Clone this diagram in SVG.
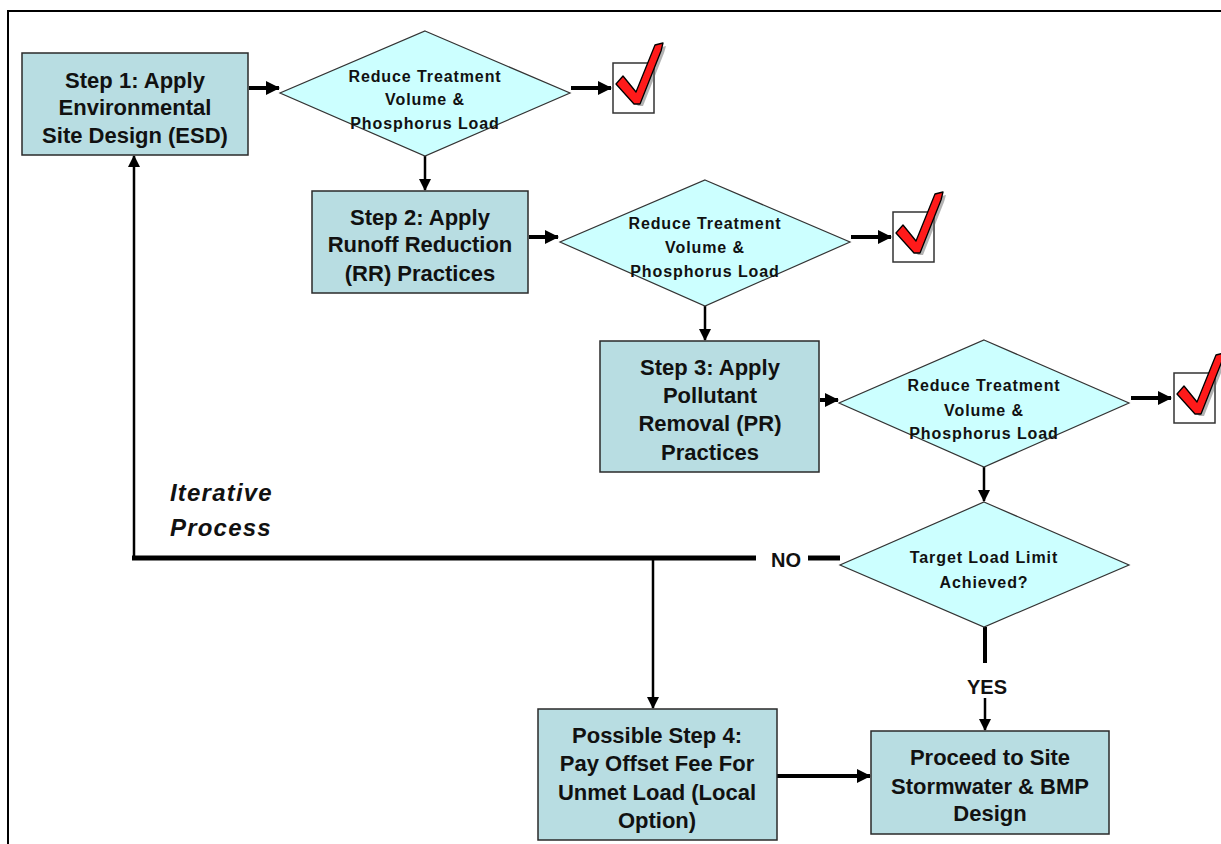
<svg xmlns="http://www.w3.org/2000/svg" xmlns:xlink="http://www.w3.org/1999/xlink" width="1221" height="844" viewBox="0 0 1221 844">
<style>
.box{fill:#b8dde2;stroke:#2a2a2a;stroke-width:1.5}
.dia{fill:#ccffff;stroke:#333;stroke-width:1.2}
.bt{font-family:"Liberation Sans",Arial,sans-serif;font-weight:bold;font-size:22px;fill:#111;text-anchor:middle}
.dt{font-family:"Liberation Sans",Arial,sans-serif;font-weight:bold;font-size:16px;letter-spacing:0.9px;fill:#111;text-anchor:middle}
.lbl{font-family:"Liberation Sans",Arial,sans-serif;font-weight:bold;font-size:20px;fill:#111;text-anchor:middle}
.it{font-family:"Liberation Sans",Arial,sans-serif;font-weight:bold;font-style:italic;font-size:24px;letter-spacing:1.2px;fill:#111}
.thick{stroke:#000;stroke-width:4;fill:none}
.thin{stroke:#000;stroke-width:2.5;fill:none}
.bar{stroke:#000;stroke-width:5;fill:none}
</style>
<defs>
<marker id="ah" markerUnits="userSpaceOnUse" markerWidth="14" markerHeight="14" viewBox="0 0 14 14" refX="13" refY="7" orient="auto">
<path d="M0,0 L14,7 L0,14 Z" fill="#000"/>
</marker>
<marker id="ahs" markerUnits="userSpaceOnUse" markerWidth="12" markerHeight="12" viewBox="0 0 12 12" refX="11" refY="6" orient="auto">
<path d="M0,0 L12,6 L0,12 Z" fill="#000"/>
</marker>
<g id="chk">
<rect x="0" y="0" width="41" height="50" fill="#fff" stroke="#333" stroke-width="1.5"/>
<path d="M6,23 L12,16 L26,32 L45,-15 L53,-17 L51,-10 L30,43 L25,43 Z" fill="#666" opacity="0.5"/>
<path d="M3,21 L10,13 L23,29 L42,-18 L50,-20 L48,-12 L27,41 L21,41 Z" fill="#ff1a1a" stroke="#000" stroke-width="1.3" stroke-linejoin="round"/>
</g>
</defs>

<path d="M8,844 V11 H1221" fill="none" stroke="#000" stroke-width="2"/>

<g id="connectors">
<line class="thick" x1="249" y1="88" x2="279" y2="88" marker-end="url(#ah)"/>
<line class="thick" x1="571" y1="88" x2="611" y2="88" marker-end="url(#ah)"/>
<line class="thin" x1="425" y1="156" x2="425" y2="190" marker-end="url(#ahs)"/>
<line class="thick" x1="529" y1="237" x2="558" y2="237" marker-end="url(#ah)"/>
<line class="thick" x1="851" y1="237" x2="891" y2="237" marker-end="url(#ah)"/>
<line class="thin" x1="705" y1="306" x2="705" y2="340" marker-end="url(#ahs)"/>
<line class="thick" x1="820" y1="400" x2="838" y2="400" marker-end="url(#ah)"/>
<line class="thick" x1="1131" y1="398" x2="1171" y2="398" marker-end="url(#ah)"/>
<line class="thin" x1="984" y1="467" x2="984" y2="501" marker-end="url(#ahs)"/>
<line class="bar" x1="840" y1="558" x2="808" y2="558"/>
<line class="bar" x1="756" y1="558" x2="132" y2="558"/>
<line class="thin" x1="134" y1="560" x2="134" y2="156" marker-end="url(#ahs)"/>
<line class="thin" x1="653" y1="558" x2="653" y2="708" marker-end="url(#ahs)"/>
<line class="thick" x1="985" y1="627" x2="985" y2="663"/>
<line class="thin" x1="985" y1="698" x2="985" y2="730" marker-end="url(#ahs)"/>
<line class="thick" x1="777" y1="776" x2="870" y2="776" marker-end="url(#ah)"/>
<text class="lbl" x="786" y="567">NO</text>
<text class="lbl" x="987" y="694">YES</text>
</g>

<g id="step1">
<rect class="box" x="22" y="53" width="226" height="102"/>
<text class="bt" x="135" y="88">Step 1: Apply</text>
<text class="bt" x="135" y="115">Environmental</text>
<text class="bt" x="135" y="143">Site Design (ESD)</text>
</g>

<g id="dec1">
<polygon class="dia" points="425,31 570,93 425,156 280,93"/>
<text class="dt" x="425" y="82">Reduce Treatment</text>
<text class="dt" x="425" y="105">Volume &amp;</text>
<text class="dt" x="425" y="129">Phosphorus Load</text>
</g>
<g id="check1"><use xlink:href="#chk" x="613" y="63"/></g>

<g id="step2">
<rect class="box" x="312" y="191" width="216" height="102"/>
<text class="bt" x="420" y="225">Step 2: Apply</text>
<text class="bt" x="420" y="252">Runoff Reduction</text>
<text class="bt" x="420" y="281">(RR) Practices</text>
</g>

<g id="dec2">
<polygon class="dia" points="705,180 850,242 705,306 560,242"/>
<text class="dt" x="705" y="229">Reduce Treatment</text>
<text class="dt" x="705" y="253">Volume &amp;</text>
<text class="dt" x="705" y="277">Phosphorus Load</text>
</g>
<g id="check2"><use xlink:href="#chk" x="893" y="212"/></g>

<g id="step3">
<rect class="box" x="600" y="341" width="219" height="131"/>
<text class="bt" x="710" y="375">Step 3: Apply</text>
<text class="bt" x="710" y="403">Pollutant</text>
<text class="bt" x="710" y="431">Removal (PR)</text>
<text class="bt" x="710" y="460">Practices</text>
</g>

<g id="dec3">
<polygon class="dia" points="984,340 1129,403 984,467 839,403"/>
<text class="dt" x="984" y="391">Reduce Treatment</text>
<text class="dt" x="984" y="416">Volume &amp;</text>
<text class="dt" x="984" y="439">Phosphorus Load</text>
</g>
<g id="check3"><use xlink:href="#chk" x="1174" y="373"/></g>

<g id="dec4">
<polygon class="dia" points="984,502 1129,565 984,627 840,565"/>
<text class="dt" x="984" y="563">Target Load Limit</text>
<text class="dt" x="984" y="588">Achieved?</text>
</g>

<g id="iterative">
<text class="it" x="170" y="501">Iterative</text>
<text class="it" x="170" y="536">Process</text>
</g>

<g id="step4">
<rect class="box" x="538" y="709" width="239" height="131"/>
<text class="bt" x="657" y="743">Possible Step 4:</text>
<text class="bt" x="657" y="771">Pay Offset Fee For</text>
<text class="bt" x="657" y="800">Unmet Load (Local</text>
<text class="bt" x="657" y="828">Option)</text>
</g>

<g id="proceed">
<rect class="box" x="871" y="731" width="238" height="103"/>
<text class="bt" x="990" y="765">Proceed to Site</text>
<text class="bt" x="990" y="794">Stormwater &amp; BMP</text>
<text class="bt" x="990" y="821">Design</text>
</g>
</svg>
